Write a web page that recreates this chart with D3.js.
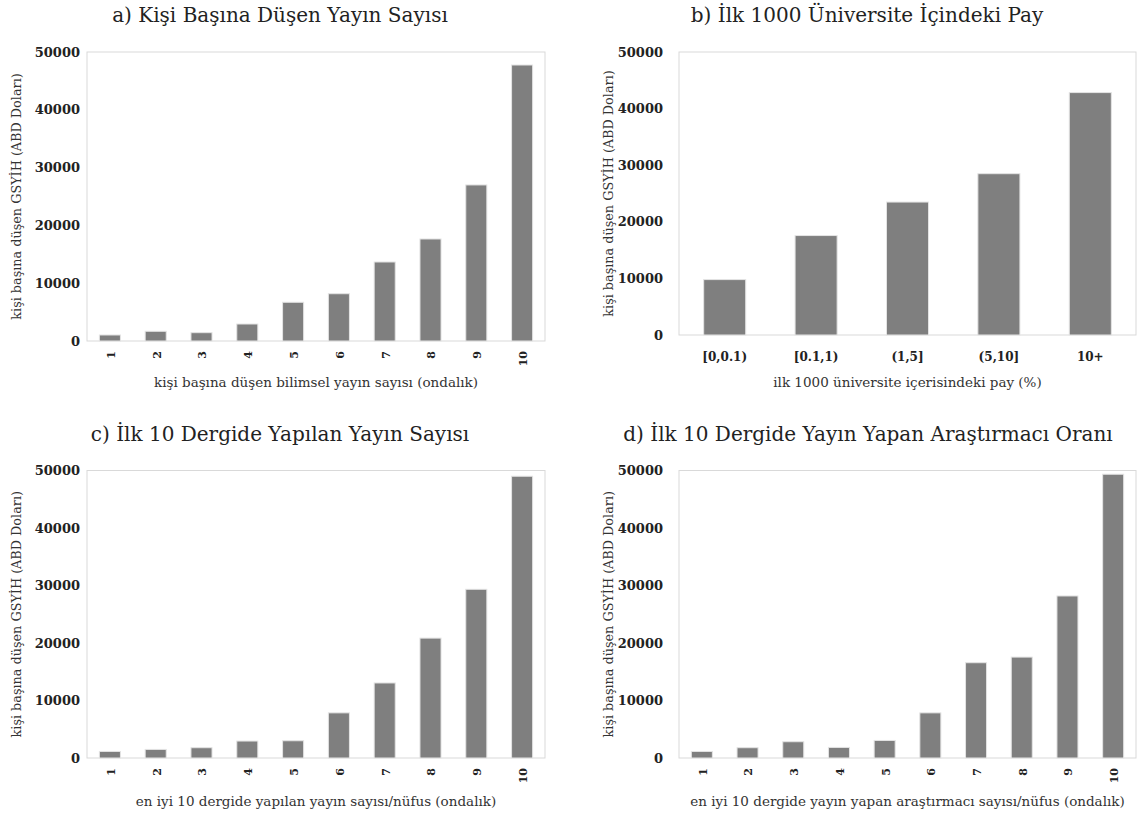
<!DOCTYPE html>
<html><head><meta charset="utf-8">
<script src="https://cdn.jsdelivr.net/npm/d3@7"></script>
<style>body{margin:0;background:#fff}svg{display:block}</style>
</head><body>
<svg id="chart" width="1138" height="813"></svg>
<script>
// ---- data ----
const decileCategories = ["1","2","3","4","5","6","7","8","9","10"];
const shareCategories = ["[0,0.1)","[0.1,1)","(1,5]","(5,10]","10+"];
const valuesA = [1040,1680,1440,2940,6700,8180,13670,17650,27000,47750];
const valuesB = [9790,17570,23490,28500,42830];
const valuesC = [1140,1490,1790,2950,3000,7850,13050,20850,29340,49000];
const valuesD = [1140,1790,2830,1840,3050,7850,16570,17550,28180,49350];
const yTicks = [0,10000,20000,30000,40000,50000];
const panelTitles = ["a) Kişi Başına Düşen Yayın Sayısı","b) İlk 1000 Üniversite İçindeki Pay","c) İlk 10 Dergide Yapılan Yayın Sayısı","d) İlk 10 Dergide Yayın Yapan Araştırmacı Oranı"];
const xTitles = ["kişi başına düşen bilimsel yayın sayısı (ondalık)","ilk 1000 üniversite içerisindeki pay (%)","en iyi 10 dergide yapılan yayın sayısı/nüfus (ondalık)","en iyi 10 dergide yayın yapan araştırmacı sayısı/nüfus (ondalık)"];
const yTitle = "kişi başına düşen GSYİH (ABD Doları)";

// ---- layout ----
const panels = [
  {cats: decileCategories, vals: valuesA, title: panelTitles[0], xt: xTitles[0], L:87, R:545, T:52, B:341, tx:280, ty:22, yl:17, gap:7, rot:true, xty:382},
  {cats: shareCategories, vals: valuesB, title: panelTitles[1], xt: xTitles[1], L:679, R:1136, T:52, B:335, tx:867, ty:22, yl:609, gap:16, rot:false, xty:382},
  {cats: decileCategories, vals: valuesC, title: panelTitles[2], xt: xTitles[2], L:87, R:545, T:470.5, B:758, tx:280, ty:441, yl:17, gap:7, rot:true, xty:801},
  {cats: decileCategories, vals: valuesD, title: panelTitles[3], xt: xTitles[3], L:679, R:1136, T:470.5, B:758, tx:868, ty:441, yl:609, gap:16, rot:true, xty:801}
];

const svg = d3.select("#chart");
const serif = "DejaVu Serif";

panels.forEach(p => {
  const g = svg.append("g");
  const x = d3.scaleBand().domain(p.cats).range([p.L, p.R]).paddingInner(0.54).paddingOuter(0.27);
  const y = d3.scaleLinear().domain([0, 50000]).range([p.B, p.T]);

  // frame
  g.append("rect").attr("x", p.L).attr("y", p.T).attr("width", p.R - p.L).attr("height", p.B - p.T)
    .attr("fill", "none").attr("stroke", "#d9d9d9").attr("stroke-width", 1);

  // bars
  g.selectAll("rect.bar").data(p.vals).join("rect").attr("class", "bar")
    .attr("x", (d, i) => x(p.cats[i]))
    .attr("width", x.bandwidth())
    .attr("y", d => y(d))
    .attr("height", d => y(0) - y(d))
    .attr("fill", "#7f7f7f").attr("stroke", "#e4e4e4").attr("stroke-width", 1);

  // y axis
  const yAxis = d3.axisLeft(y).tickValues(yTicks).tickSize(0).tickPadding(p.gap).tickFormat(d3.format("d"));
  const ya = g.append("g").attr("transform", `translate(${p.L},0)`).call(yAxis);
  ya.select(".domain").remove();
  ya.selectAll("text").attr("font-family", serif).attr("font-weight", "bold")
    .attr("font-size", 13).attr("fill", "#222");

  // x axis
  const xAxis = d3.axisBottom(x).tickSize(0);
  const xa = g.append("g").attr("transform", `translate(0,${p.B})`).call(xAxis);
  xa.select(".domain").remove();
  if (p.rot) {
    xa.selectAll("text").attr("font-family", serif).attr("font-weight", "bold").attr("font-size", 11)
      .attr("fill", "#222").attr("text-anchor", "end").attr("dy", "0.35em")
      .attr("transform", "translate(1,10) rotate(-90)").attr("y", 0).attr("x", 0);
  } else {
    xa.selectAll("text").attr("font-family", serif).attr("font-weight", "bold").attr("font-size", 12)
      .attr("fill", "#222").attr("y", 22).attr("dy", "0.35em");
  }

  // titles
  g.append("text").attr("x", p.tx).attr("y", p.ty).attr("text-anchor", "middle")
    .attr("font-family", serif).attr("font-size", 20).attr("fill", "#222").text(p.title);
  g.append("text").attr("x", (p.L + p.R) / 2).attr("y", p.xty).attr("dy", "0.35em").attr("text-anchor", "middle")
    .attr("font-family", serif).attr("font-size", 13.5).attr("fill", "#333").text(p.xt);
  g.append("text").attr("transform", `translate(${p.yl},${(p.T + p.B) / 2}) rotate(-90)`).attr("dy", "0.35em")
    .attr("text-anchor", "middle").attr("font-family", serif).attr("font-size", 12.8).attr("fill", "#333").text(yTitle);
});
</script>
</body></html>
